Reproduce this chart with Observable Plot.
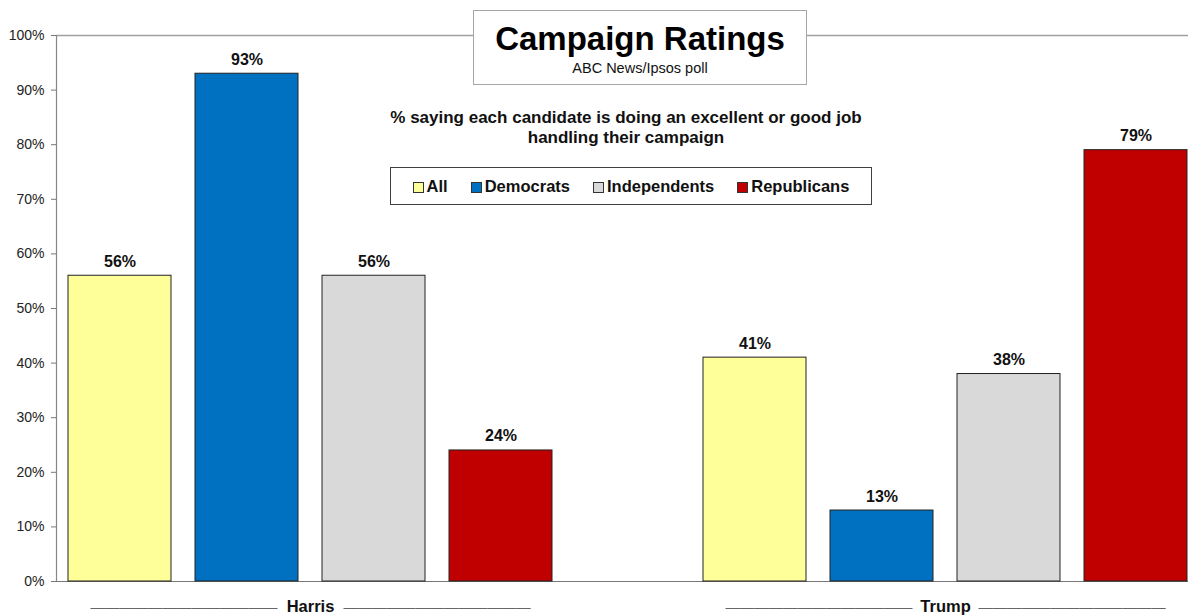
<!DOCTYPE html>
<html>
<head>
<meta charset="utf-8">
<script src="https://cdn.jsdelivr.net/npm/d3@7"></script>
<script src="https://cdn.jsdelivr.net/npm/@observablehq/plot@0.6"></script>
<style>
  html, body { margin: 0; padding: 0; background: #fff; overflow: hidden; }
  body { font-family: "Liberation Sans", Arial, sans-serif; }
  #wrap { position: relative; width: 1188px; height: 616px; }
  #wrap > .layer { position: absolute; left: 0; top: 0; }
  #titlebox { position: absolute; left: 473px; top: 10px; width: 334px; height: 75px; box-sizing: border-box;
    border: 1.5px solid #a6a6a6; background: #fff; z-index: 5; text-align: center; }
  #title { position: absolute; left: 0; right: 0; top: 9px; font-size: 33px; font-weight: bold; color: #000; line-height: 38px; }
  #source { position: absolute; left: 0; right: 0; top: 49px; font-size: 14.5px; color: #111; line-height: 17px; }
  #subtitle { position: absolute; left: 326px; width: 600px; top: 108px; text-align: center; font-size: 17px; font-weight: bold;
    line-height: 20px; color: #111; z-index: 5; }
  #legend { position: absolute; left: 390px; top: 167px; width: 482px; height: 38px; box-sizing: border-box;
    border: 1.5px solid #404040; background: #fff; z-index: 5; display: flex; align-items: center; justify-content: center; gap: 23px; }
  .item { display: flex; align-items: center; font-size: 16.5px; font-weight: bold; color: #111; }
  .sw { width: 9px; height: 9px; border: 1px solid #333; margin-right: 3px; margin-top: 3px; }
</style>
</head>
<body>
<div id="wrap">
  <div id="titlebox"><div id="title">Campaign Ratings</div><div id="source">ABC News/Ipsos poll</div></div>
  <div id="subtitle">% saying each candidate is doing an excellent or good job<br>handling their campaign</div>
  <div id="legend"></div>
</div>
<script>
const candidates = ["Harris", "Trump"];
const parties = ["All", "Democrats", "Independents", "Republicans"];
const partyColors = ["#FFFF99", "#0070C0", "#D9D9D9", "#C00000"];
const harrisValues = [56, 93, 56, 24];
const trumpValues = [41, 13, 38, 79];
const yTicks = [0, 10, 20, 30, 40, 50, 60, 70, 80, 90, 100];

const seriesByCandidate = {Harris: harrisValues, Trump: trumpValues};
const rows = candidates.flatMap(c => parties.map((p, i) => ({candidate: c, party: p, value: seriesByCandidate[c][i]})));

const font = "Liberation Sans, Arial, sans-serif";
const W = 1188, H = 616;

// Layer A: y axis, baseline and top gridline
const axisPlot = Plot.plot({
  width: W, height: H,
  marginLeft: 56, marginRight: 0, marginTop: 35, marginBottom: 35,
  style: {fontFamily: font, background: "transparent", overflow: "visible"},
  x: {domain: [0, 1], axis: null},
  y: {domain: [0, 100], axis: null},
  marks: [
    Plot.ruleY([100], {stroke: "#a0a0a0", strokeWidth: 1.5}),
    Plot.ruleY([0], {stroke: "#777", strokeWidth: 1.2}),
    Plot.ruleX([0], {stroke: "#888", strokeWidth: 1.2}),
    Plot.axisY({ticks: yTicks, tickFormat: d => d + "%", tickSize: 5, tickPadding: 7,
      stroke: "#777", fill: "#222", fontSize: 14, fontFamily: font})
  ]
});
axisPlot.classList.add("layer");

// Layer B: bars grouped by candidate
const barPlot = Plot.plot({
  width: W, height: H,
  marginLeft: 67, marginRight: 1, marginTop: 35, marginBottom: 35,
  style: {fontFamily: font, background: "transparent", overflow: "visible"},
  fx: {domain: candidates, paddingInner: 0.2378, paddingOuter: 0, axis: null},
  x: {domain: parties, paddingInner: 0.19, paddingOuter: 0, axis: null},
  y: {domain: [0, 100], axis: null},
  color: {domain: parties, range: partyColors},
  marks: [
    Plot.barY(rows, {fx: "candidate", x: "party", y: "value", fill: "party", stroke: "#222", strokeWidth: 1}),
    Plot.text(rows, {fx: "candidate", x: "party", y: "value", text: d => d.value + "%", lineAnchor: "bottom", dy: -9,
      fontSize: 16, fontWeight: "bold", fill: "#111", fontFamily: font}),
    Plot.text(candidates, {fx: d => d, text: d => d, frameAnchor: "bottom", dy: 30, fontSize: 16.5, fontWeight: "bold", fill: "#111", fontFamily: font}),
    Plot.text(candidates, {fx: d => d, text: d => "—".repeat(13), frameAnchor: "bottom", textAnchor: "end", dx: -33, dy: 30,
      fontSize: 14.4, fill: "#666", fontFamily: font}),
    Plot.text(candidates, {fx: d => d, text: d => "—".repeat(13), frameAnchor: "bottom", textAnchor: "start", dx: 33, dy: 30,
      fontSize: 14.4, fill: "#666", fontFamily: font})
  ]
});
barPlot.classList.add("layer");

const wrap = document.getElementById("wrap");
wrap.insertBefore(barPlot, wrap.firstChild);
wrap.insertBefore(axisPlot, wrap.firstChild);

// legend
const legend = document.getElementById("legend");
parties.forEach((p, i) => {
  const it = document.createElement("div");
  it.className = "item";
  const sw = document.createElement("div");
  sw.className = "sw";
  sw.style.background = partyColors[i];
  it.appendChild(sw);
  it.appendChild(document.createTextNode(p));
  legend.appendChild(it);
});
</script>
</body>
</html>
